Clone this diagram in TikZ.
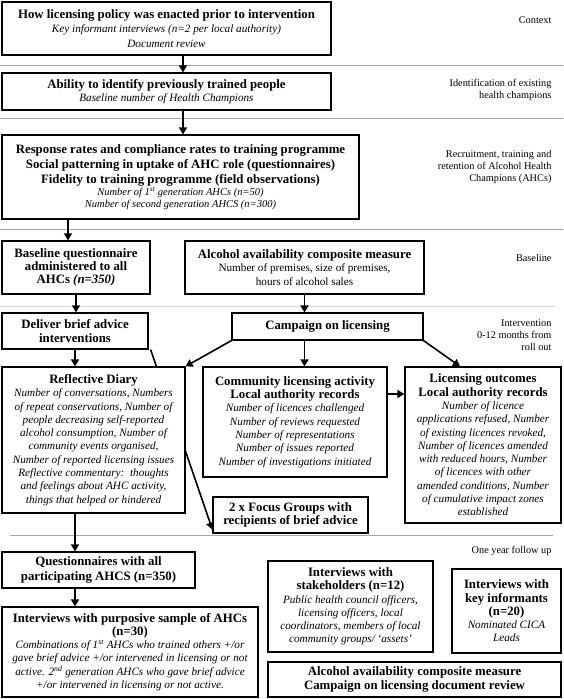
\documentclass[tikz,border=0pt]{standalone}
\usepackage{fontspec}
\setmainfont{Liberation Serif}
\usetikzlibrary{arrows.meta,backgrounds}
\newcommand{\hd}[1]{{\fontsize{12.8}{14}\selectfont\bfseries\upshape #1}}

\begin{document}
\begin{tikzpicture}[x=1pt,y=-1pt,
  box/.style={draw,line width=1.2pt,fill=white,align=center,inner sep=0pt,
    font=\fontsize{11.2}{13.3}\selectfont\itshape},
  stage/.style={anchor=east,align=right,font=\fontsize{10.3}{12}\selectfont},
  sep/.style={gray!70,line width=0.9pt},
  arr/.style={-{Triangle[length=7pt,width=8pt]},line width=1.6pt}]
  \useasboundingbox (0,0) rectangle (563,699);

  \draw[sep] (0,65) -- (563,65);
  \draw[sep] (0,118) -- (563,118);
  \draw[sep] (0,229) -- (563,229);
  \draw[sep,gray!35] (0,306) -- (555,306);
  \draw[sep] (10,535) -- (553,535);

  \node[stage] (context) at (555,20) {Context};
  \node[stage] (identify) at (555,90) {Identification of existing\\health champions};
  \node[stage] (recruit) at (555,167) {Recruitment, training and\\retention of Alcohol Health\\Champions (AHCs)};
  \node[stage] (baseline) at (555,258) {Baseline};
  \node[stage] (interv) at (555,335) {Intervention\\0-12 months from\\roll out};
  \node[stage] (followup) at (555,551) {One year follow up};

  \node[box,minimum width=329pt,minimum height=53pt] (policy) at (166.5,28.5)
    {\hd{How licensing policy was enacted prior to intervention}\\[1.2pt]
     Key informant interviews (n=2 per local authority)\\[1.2pt]
     Document review};
  \node[box,minimum width=329pt,minimum height=37pt] (ability) at (166.5,91.5)
    {\hd{Ability to identify previously trained people}\\
     Baseline number of Health Champions};
  \node[box,minimum width=357pt,minimum height=84pt] (training) at (180.5,177)
    {\hd{Response rates and compliance rates to training programme}\\[1.7pt]
     \hd{Social patterning in uptake of AHC role (questionnaires)}\\[1.7pt]
     \hd{Fidelity to training programme (field observations)}\\[-1.5pt]
     {\fontsize{10.5}{12}\selectfont Number of 1\textsuperscript{st} generation AHCs (n=50)}\\[-1.5pt]
     {\fontsize{10.5}{12}\selectfont Number of second generation AHCS (n=300)}};

  \node[box,minimum width=148pt,minimum height=53pt] (baseq) at (76,267.5)
    {\hd{Baseline questionnaire}\\\hd{administered to all}\\\hd{AHCs \itshape(n=350)}};
  \node[box,minimum width=239pt,minimum height=53pt] (avail) at (304.5,267.5)
    {\hd{Alcohol availability composite measure}\\
     \textup{Number of premises, size of premises,}\\
     \textup{hours of alcohol sales}};

  \node[box,minimum width=146pt,minimum height=36pt] (deliver) at (75,331)
    {\hd{Deliver brief advice}\\\hd{interventions}};
  \node[box,minimum width=191pt,minimum height=27pt] (campaign) at (327.5,326.5)
    {\hd{Campaign on licensing}};

  \node[box,minimum width=183pt,minimum height=146pt] (diary) at (93.5,440)
    {\hd{Reflective Diary}\\
     Number of conversations, Numbers\\
     of repeat conservations, Number of\\
     people decreasing self-reported\\
     alcohol consumption, Number of\\
     community events organised,\\
     Number of reported licensing issues\\
     Reflective commentary:\ \ thoughts\\
     and feelings about AHC activity,\\
     things that helped or hindered};
  \node[box,minimum width=184pt,minimum height=110pt] (community) at (295,422)
    {\hd{Community licensing activity}\\
     \hd{Local authority records}\\
     Number of licences challenged\\
     Number of reviews requested\\
     Number of representations\\
     Number of issues reported\\
     Number of investigations initiated};
  \node[box,minimum width=156pt,minimum height=156pt] (outcomes) at (483,445)
    {\hd{Licensing outcomes}\\
     \hd{Local authority records}\\
     Number of licence\\
     applications refused, Number\\
     of existing licences revoked,\\
     Number of licences amended\\
     with reduced hours, Number\\
     of licences with other\\
     amended conditions, Number\\
     of cumulative impact zones\\
     established};
  \node[box,minimum width=155pt,minimum height=36pt] (focus) at (290.5,515)
    {\hd{2 x Focus Groups with}\\\hd{recipients of brief advice}};

  \node[box,minimum width=193pt,minimum height=36pt] (questionnaire) at (98.5,570)
    {\hd{Questionnaires with all}\\[2pt]\hd{participating AHCS (n=350)}};
  \node[box,minimum width=256pt,minimum height=90pt] (purposive) at (130,652)
    {\hd{Interviews with purposive sample of AHCs}\\
     \hd{(n=30)}\\
     Combinations of 1\textsuperscript{st} AHCs who trained others +/or\\
     gave brief advice +/or intervened in licensing or not\\
     active. 2\textsuperscript{nd} generation AHCs who gave brief advice\\
     +/or intervened in licensing or not active.};
  \node[box,minimum width=165pt,minimum height=91pt] (stakeholders) at (350.5,606.5)
    {\hd{Interviews with}\\
     \hd{stakeholders (n=12)}\\
     Public health council officers,\\
     licensing officers, local\\
     coordinators, members of local\\
     community groups/ `assets'};
  \node[box,minimum width=109pt,minimum height=84pt] (keyinf) at (506.5,611)
    {\hd{Interviews with}\\\hd{key informants}\\\hd{(n=20)}\\
     Nominated CICA\\Leads};
  \node[box,minimum width=293pt,minimum height=35pt] (docreview) at (414.5,679.5)
    {\hd{Alcohol availability composite measure}\\
     \hd{Campaign on licensing document review}};

  \draw[arr] ([xshift=16.5pt]policy.south) -- ([xshift=16.5pt]ability.north);
  \draw[arr] ([xshift=16.5pt]ability.south) -- ([xshift=2.5pt]training.north);
  \draw[arr] ([xshift=-8pt]baseq.north |- training.south) -- ([xshift=-8pt]baseq.north);
  \draw[arr] (baseq.south) -- (baseq.south |- deliver.north);
  \draw[arr] (avail.south) -- (avail.south |- campaign.north);
  \draw[arr] (deliver.south) -- (deliver.south |- diary.north);
  \draw[arr] (campaign.south west) -- (diary.north east);
  \draw[arr] (avail.south |- campaign.south) -- (avail.south |- community.north);
  \draw[arr] (campaign.south east) -- ([xshift=-23pt]outcomes.north);
  \draw[arr] ([yshift=28pt]community.east) -- ([yshift=28pt]community.east -| outcomes.west);
  \draw[arr] (deliver.south |- diary.south) -- (deliver.south |- questionnaire.north);
  \draw[arr] (deliver.south |- questionnaire.south) -- (deliver.south |- purposive.north);
  \begin{scope}[on background layer]
    \draw[arr] ([xshift=2pt]deliver.south east) -- ([yshift=4pt]focus.south west);
  \end{scope}
\end{tikzpicture}
\end{document}
